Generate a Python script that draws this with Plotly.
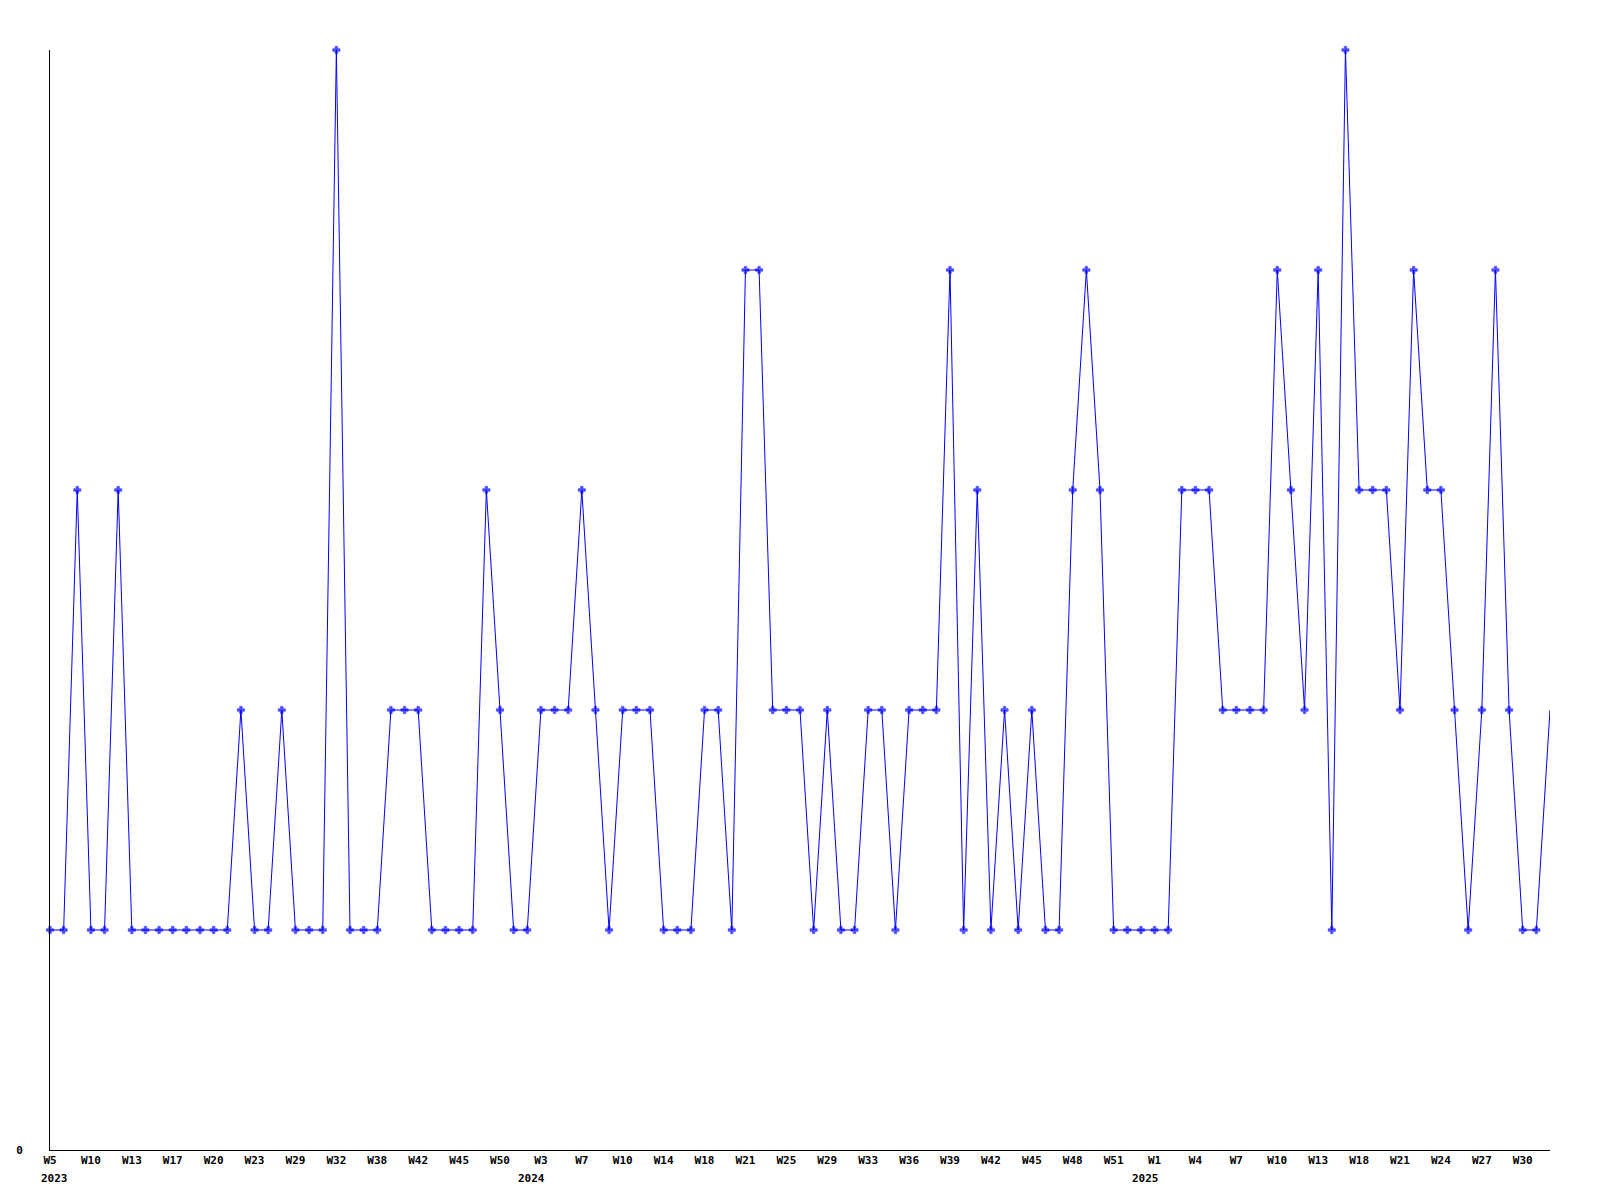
import plotly.graph_objects as go

values = [1, 1, 3, 1, 1, 3, 1, 1, 1, 1, 1, 1, 1, 1, 2, 1, 1, 2, 1, 1,
          1, 5, 1, 1, 1, 2, 2, 2, 1, 1, 1, 1, 3, 2, 1, 1, 2, 2, 2, 3,
          2, 1, 2, 2, 2, 1, 1, 1, 2, 2, 1, 4, 4, 2, 2, 2, 1, 2, 1, 1,
          2, 2, 1, 2, 2, 2, 4, 1, 3, 1, 2, 1, 2, 1, 1, 3, 4, 3, 1, 1,
          1, 1, 1, 3, 3, 3, 2, 2, 2, 2, 4, 3, 2, 4, 1, 5, 3, 3, 3, 2,
          4, 3, 3, 2, 1, 2, 4, 2, 1, 1, 2]

tick_labels = ["W5", "W10", "W13", "W17", "W20", "W23", "W29", "W32", "W38",
               "W42", "W45", "W50", "W3", "W7", "W10", "W14", "W18", "W21",
               "W25", "W29", "W33", "W36", "W39", "W42", "W45", "W48", "W51",
               "W1", "W4", "W7", "W10", "W13", "W18", "W21", "W24", "W27", "W30"]
tick_every = 3

years = ["2023", "2024", "2025"]
year_tick_index = [0, 12, 27]  # index into tick_labels where each year starts
year_xshift = [-11, -25, -25]  # label placement (style)

x = list(range(len(values)))
tickvals = [i * tick_every for i in range(len(tick_labels))]

FONT = dict(family="DejaVu Sans Mono", size=11, color="black", weight="bold")

marker_sizes = [6] * (len(values) - 1) + [0]

fig = go.Figure()
fig.add_trace(go.Scatter(
    x=x, y=values, mode="lines+markers",
    line=dict(color="#0000ff", width=1),
    marker=dict(symbol="cross", size=marker_sizes, color="#0000ff",
                line=dict(width=0.8, color="#0000ff")),
    cliponaxis=False, showlegend=False, hoverinfo="skip",
))

annotations = []
for yr, ti, xs in zip(years, year_tick_index, year_xshift):
    annotations.append(dict(
        x=tickvals[ti], y=0, xref="x", yref="paper",
        text=yr, showarrow=False, xanchor="left", yanchor="top",
        xshift=xs, yshift=-20, font=FONT,
    ))

fig.update_layout(
    width=1600, height=1200,
    margin=dict(l=50, r=50, t=50, b=50),
    paper_bgcolor="white", plot_bgcolor="white",
    font=FONT,
    annotations=annotations,
    xaxis=dict(
        range=[0, len(values) - 1],
        tickmode="array", tickvals=tickvals, ticktext=tick_labels,
        showgrid=False, zeroline=False, showline=True,
        linecolor="black", linewidth=1, ticks="",
        tickfont=FONT, tickangle=0, automargin=False,
    ),
    yaxis=dict(
        range=[0, 5],
        tickmode="array", tickvals=[0], ticktext=["0"],
        showgrid=False, zeroline=False, showline=True,
        linecolor="black", linewidth=1, ticks="",
        tickfont=FONT, ticklabelstandoff=24, automargin=False,
    ),
)

fig.write_html(
    "out.html",
    config={"displayModeBar": False},
    post_script="document.body.style.margin='0';",
)
